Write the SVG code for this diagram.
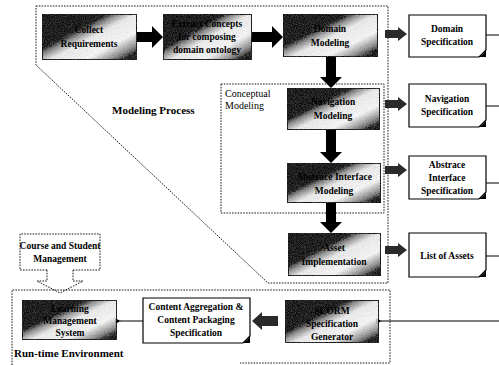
<svg xmlns="http://www.w3.org/2000/svg" width="499" height="365" viewBox="0 0 499 365">
  <style>
    text { font-family: "Liberation Serif", "DejaVu Serif", serif; font-weight: bold; fill: #000; text-anchor: middle; }
    .t { font-size: 9.5px; }
    .lab { font-size: 10px; text-anchor: start; font-weight: normal; }
    .big { font-size: 11px; text-anchor: start; }
    .dash { fill: none; stroke: #000; stroke-width: 0.9; stroke-dasharray: 1.6 1.2; }
    .node { fill: url(#shade); stroke: #000; stroke-width: 1.4; }
    .spec { fill: #fff; stroke: #000; stroke-width: 1.2; }
    .fold { fill: #000; }
    .blk { fill: #000; }
    .gry { fill: #2a2a2a; }
    .wire { fill: none; stroke: #000; stroke-width: 1; }
  </style>
  <defs>
    <linearGradient id="shade" x1="0" y1="0.05" x2="1" y2="0.95">
      <stop offset="0" stop-color="#000"/>
      <stop offset="0.3" stop-color="#151515"/>
      <stop offset="0.42" stop-color="#9a9a9a"/>
      <stop offset="0.52" stop-color="#f4f4f4"/>
      <stop offset="0.72" stop-color="#fff"/>
      <stop offset="0.86" stop-color="#9a9a9a"/>
      <stop offset="1" stop-color="#1a1a1a"/>
    </linearGradient>
    <filter id="grain" x="0" y="0" width="1" height="1">
      <feTurbulence type="fractalNoise" baseFrequency="0.9" numOctaves="2" seed="3" result="n"/>
      <feColorMatrix in="n" type="saturate" values="0" result="g"/>
      <feComposite in="g" in2="SourceGraphic" operator="arithmetic" k1="0" k2="0.45" k3="0.85" k4="-0.2" result="mix"/>
      <feComposite in="mix" in2="SourceAlpha" operator="in"/>
    </filter>
    <marker id="tipL" viewBox="0 0 8 8" refX="1" refY="4" markerWidth="6" markerHeight="6" orient="auto-start-reverse">
      <path d="M8,0 L0,4 L8,8 Z" fill="#000"/>
    </marker>
  </defs>

  <!-- region outlines -->
  <g id="regions">
    <path class="dash" d="M36,6 H388 V283 H268 L36,65 Z"/>
    <text class="big" x="112" y="114">Modeling Process</text>
    <rect class="dash" x="221" y="84" width="163" height="129"/>
    <text class="lab" x="225" y="97">Conceptual</text>
    <text class="lab" x="225" y="109">Modeling</text>
    <path class="dash" d="M12,365 V290 H390 V363 H240"/>
    <text class="big" x="14" y="357">Run-time Environment</text>
  </g>

  <!-- connectors -->
  <g id="connectors">
    <!-- solid block arrows between modeling steps -->
    <path class="blk" d="M137,32 H152 V26 L163,37 L152,48 V42 H137 Z"/>
    <path class="blk" d="M252,32 H272 V26 L283,37 L272,48 V42 H252 Z"/>
    <path class="blk" d="M326,57 H336 V77 H342 L331,88 L320,77 H326 Z"/>
    <path class="blk" d="M326,130 H336 V152 H342 L331,163 L320,152 H326 Z"/>
    <path class="blk" d="M326,203 H336 V222 H342 L331,233 L320,222 H326 Z"/>
    <!-- grey arrows to the specification documents -->
    <path class="gry" d="M385,30 H398 V27 L407,34 L398,41 V38 H385 Z"/>
    <path class="gry" d="M385,100 H398 V97 L407,104 L398,111 V108 H385 Z"/>
    <path class="gry" d="M385,166 H398 V163 L407,170 L398,177 V174 H385 Z"/>
    <path class="gry" d="M385,246 H398 V243 L407,250 L398,257 V254 H385 Z"/>
    <path class="gry" d="M278,316 H262 V312 L252,321 L262,330 V326 H278 Z"/>
    <!-- stubs to the right edge -->
    <path class="wire" d="M486,35 H499 M486,106 H499 M486,183 H499 M486,256 H499"/>
    <path class="wire" d="M499,321 H381" marker-end="url(#tipL)"/>
    <path class="wire" d="M143,321 H120" marker-end="url(#tipL)"/>
    <!-- course management feed into the LMS -->
    <path class="dash" d="M47,270 V281 H37 L60,293 L83,281 H73 V270"/>
  </g>

  <g id="collect">
    <rect class="node" x="42" y="14" width="95" height="46" filter="url(#grain)"/>
    <text class="t" x="89" y="33">Collect</text>
    <text class="t" x="89" y="47">Requirements</text>
  </g>
  <g id="extract">
    <rect class="node" x="163" y="14" width="89" height="46" filter="url(#grain)"/>
    <text class="t" x="207" y="27">Extract Concepts</text>
    <text class="t" x="207" y="40">for composing</text>
    <text class="t" x="207" y="53">domain ontology</text>
  </g>
  <g id="domain">
    <rect class="node" x="283" y="14" width="95" height="43" filter="url(#grain)"/>
    <text class="t" x="330" y="32">Domain</text>
    <text class="t" x="330" y="46">Modeling</text>
  </g>
  <g id="navigation">
    <rect class="node" x="287" y="88" width="93" height="42" filter="url(#grain)"/>
    <text class="t" x="333" y="105">Navigation</text>
    <text class="t" x="333" y="119">Modeling</text>
  </g>
  <g id="abstract">
    <rect class="node" x="287" y="163" width="94" height="40" filter="url(#grain)"/>
    <text class="t" x="334" y="180">Abstrace Interface</text>
    <text class="t" x="334" y="194">Modeling</text>
  </g>
  <g id="asset">
    <rect class="node" x="288" y="233" width="93" height="43" filter="url(#grain)"/>
    <text class="t" x="334" y="251">Asset</text>
    <text class="t" x="334" y="265">Implementation</text>
  </g>
  <g id="scorm">
    <rect class="node" x="285" y="300" width="94" height="43" filter="url(#grain)"/>
    <text class="t" x="332" y="314">SCORM</text>
    <text class="t" x="332" y="327">Specification</text>
    <text class="t" x="332" y="340">Generator</text>
  </g>
  <g id="lms">
    <rect class="node" x="22" y="300" width="95" height="40" filter="url(#grain)"/>
    <text class="t" x="70" y="312">Learning</text>
    <text class="t" x="70" y="324">Management</text>
    <text class="t" x="70" y="336">System</text>
  </g>

  <g id="domain-spec">
    <path class="spec" d="M409,15 H486 V50 L479,57 H409 Z"/>
    <path class="fold" d="M486,49 L486,57 L478,57 Q484,55 486,49 Z"/>
    <text class="t" x="447" y="32">Domain</text>
    <text class="t" x="447" y="45">Specification</text>
  </g>
  <g id="navigation-spec">
    <path class="spec" d="M409,84 H486 V120 L479,127 H409 Z"/>
    <path class="fold" d="M486,119 L486,127 L478,127 Q484,125 486,119 Z"/>
    <text class="t" x="447" y="102">Navigation</text>
    <text class="t" x="447" y="115">Specification</text>
  </g>
  <g id="interface-spec">
    <path class="spec" d="M409,156 H486 V192 L479,199 H409 Z"/>
    <path class="fold" d="M486,191 L486,199 L478,199 Q484,197 486,191 Z"/>
    <text class="t" x="447" y="168">Abstrace</text>
    <text class="t" x="447" y="181">Interface</text>
    <text class="t" x="447" y="194">Specification</text>
  </g>
  <g id="asset-list">
    <path class="spec" d="M409,233 H486 V270 L479,277 H409 Z"/>
    <path class="fold" d="M486,269 L486,277 L478,277 Q484,275 486,269 Z"/>
    <text class="t" x="447" y="259">List of Assets</text>
  </g>
  <g id="content-spec">
    <path class="spec" d="M143,298 H250 V336 L243,343 H143 Z"/>
    <path class="fold" d="M250,335 L250,343 L242,343 Q248,341 250,335 Z"/>
    <text class="t" x="196" y="310">Content Aggregation &amp;</text>
    <text class="t" x="196" y="323">Content Packaging</text>
    <text class="t" x="196" y="336">Specification</text>
  </g>
  <g id="course-management">
    <path class="dash" d="M47,270 H20 V234 H100 V270 H73"/>
    <text class="t" x="60" y="249">Course and Student</text>
    <text class="t" x="60" y="262">Management</text>
  </g>
</svg>
